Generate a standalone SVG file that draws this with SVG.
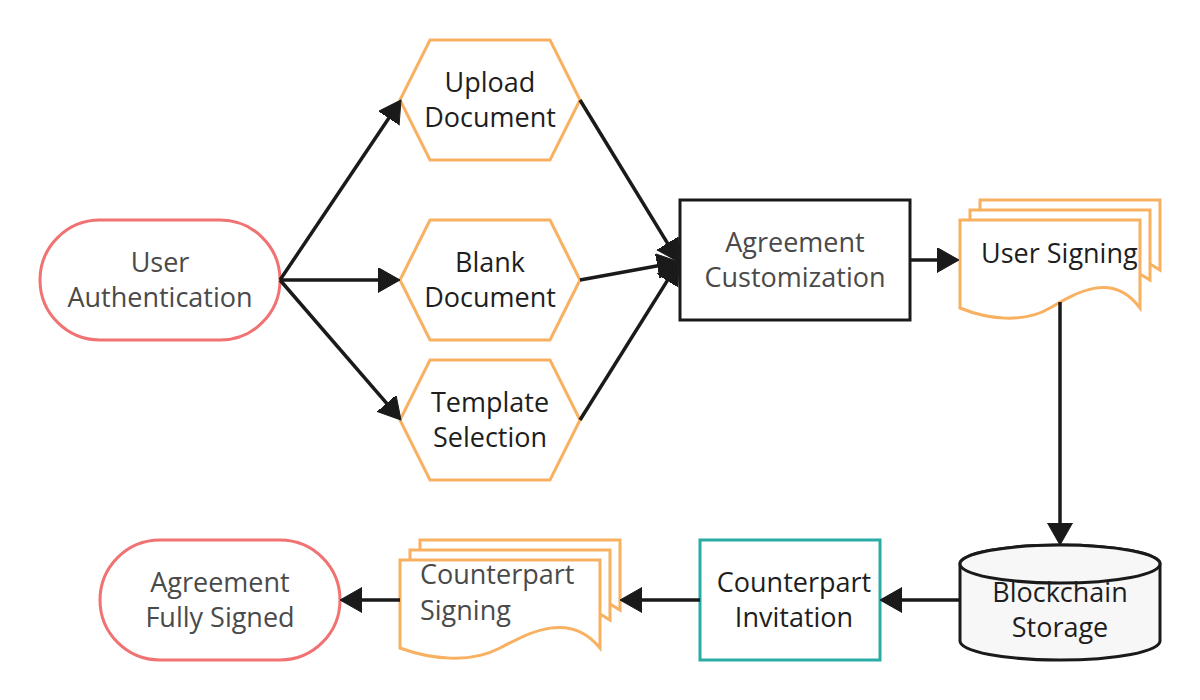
<svg xmlns="http://www.w3.org/2000/svg" width="1200" height="700" viewBox="0 0 1200 700">
  <defs>
    <marker id="arrow" markerUnits="userSpaceOnUse" markerWidth="24" markerHeight="26" refX="16" refY="12.5" orient="auto">
      <path d="M0,0 L22,12.5 L0,25 Z" fill="#1a1a1a" stroke="#1a1a1a" stroke-width="1" stroke-linejoin="round"/>
    </marker>
  </defs>
  <style>
    text { font-family: "Open Sans", "Noto Sans", "Liberation Sans", sans-serif; font-size: 27px; }
    .dark { fill: #1e1e1e; }
    .gray { fill: #4a4a4a; }
    .mid { text-anchor: middle; }
    .term { fill: #ffffff; stroke: #f07272; stroke-width: 3; }
    .hex { fill: #ffffff; stroke: #f8b061; stroke-width: 3; stroke-linejoin: miter; }
    .doc { fill: #ffffff; stroke: #f8b061; stroke-width: 3; stroke-linejoin: miter; }
    .proc { fill: #ffffff; stroke: #1a1a1a; stroke-width: 3; }
    .teal { fill: #ffffff; stroke: #2aaca6; stroke-width: 3; }
    .db { fill: #f7f7f7; stroke: #1a1a1a; stroke-width: 3; }
    .edge { fill: none; stroke: #1a1a1a; stroke-width: 3.5; marker-end: url(#arrow); }
  </style>
  <rect width="1200" height="700" fill="#ffffff"/>

  <g id="user-authentication">
    <rect class="term" x="40" y="220" width="240" height="120" rx="60" ry="60"/>
    <text class="gray mid" x="160" y="272">User</text>
    <text class="gray mid" x="160" y="307">Authentication</text>
  </g>

  <g id="upload-document">
    <polygon class="hex" points="400,100 430,40 550,40 580,100 550,160 430,160"/>
    <text class="dark mid" x="490" y="92">Upload</text>
    <text class="dark mid" x="490" y="127">Document</text>
  </g>

  <g id="blank-document">
    <polygon class="hex" points="400,280 430,220 550,220 580,280 550,340 430,340"/>
    <text class="dark mid" x="490" y="272">Blank</text>
    <text class="dark mid" x="490" y="307">Document</text>
  </g>

  <g id="template-selection">
    <polygon class="hex" points="400,420 430,360 550,360 580,420 550,480 430,480"/>
    <text class="dark mid" x="490" y="412">Template</text>
    <text class="dark mid" x="490" y="447">Selection</text>
  </g>

  <g id="agreement-customization">
    <rect class="proc" x="680" y="200" width="230" height="120"/>
    <text class="gray mid" x="795" y="252">Agreement</text>
    <text class="gray mid" x="795" y="287">Customization</text>
  </g>

  <g id="user-signing">
    <path class="doc" d="M980,200 H1160 V270 L1150,264 L980,264 Z"/>
    <path class="doc" d="M970,210 H1150 V280 L1140,274 L970,274 Z"/>
    <path class="doc" d="M960,220 H1140 V308 C1113,271 1077,292 1050,308 C1023,324 987,319 960,308 Z"/>
    <text class="dark" x="981" y="263">User Signing</text>
  </g>

  <g id="blockchain-storage">
    <path class="db" d="M960,564 A100,19 0 0 1 1160,564 V641 A100,19 0 0 1 960,641 Z"/>
    <ellipse class="db" cx="1060" cy="564" rx="100" ry="19"/>
    <text class="dark mid" x="1060" y="602">Blockchain</text>
    <text class="dark mid" x="1060" y="637">Storage</text>
  </g>

  <g id="counterpart-invitation">
    <rect class="teal" x="700" y="540" width="180" height="120"/>
    <text class="dark mid" x="794" y="592">Counterpart</text>
    <text class="dark mid" x="794" y="627">Invitation</text>
  </g>

  <g id="counterpart-signing">
    <path class="doc" d="M420,540 H620 V610 L610,604 L420,604 Z"/>
    <path class="doc" d="M410,550 H610 V620 L600,614 L410,614 Z"/>
    <path class="doc" d="M400,560 H600 V648 C570,611 530,632 500,648 C470,664 430,659 400,648 Z"/>
    <text class="gray" x="420" y="584">Counterpart</text>
    <text class="gray" x="420" y="620">Signing</text>
  </g>

  <g id="agreement-fully-signed">
    <rect class="term" x="100" y="540" width="240" height="120" rx="60" ry="60"/>
    <text class="gray mid" x="220" y="592">Agreement</text>
    <text class="gray mid" x="220" y="627">Fully Signed</text>
  </g>

  <g id="connectors">
    <line class="edge" x1="280" y1="280" x2="397.65" y2="104.98"/>
    <line class="edge" x1="280" y1="280" x2="394" y2="280"/>
    <line class="edge" x1="280" y1="280" x2="397.08" y2="415.46"/>
    <line class="edge" x1="580" y1="100" x2="675.87" y2="256.88"/>
    <line class="edge" x1="580" y1="280" x2="673.1" y2="263.07"/>
    <line class="edge" x1="580" y1="420" x2="675.81" y2="267.08"/>
    <line class="edge" x1="910" y1="260" x2="953" y2="260"/>
    <line class="edge" x1="1060" y1="302" x2="1060" y2="539"/>
    <line class="edge" x1="960" y1="600" x2="886" y2="600"/>
    <line class="edge" x1="700" y1="600" x2="626" y2="600"/>
    <line class="edge" x1="400" y1="600" x2="346" y2="600"/>
  </g>
</svg>
